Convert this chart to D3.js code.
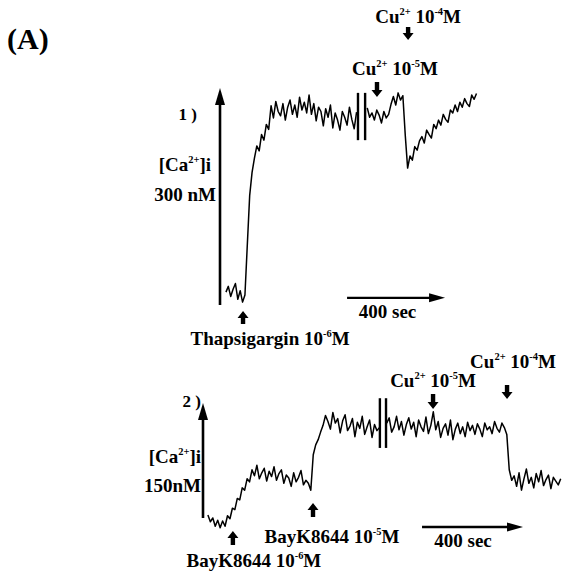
<!DOCTYPE html>
<html>
<head>
<meta charset="utf-8">
<script src="https://cdn.jsdelivr.net/npm/d3@7"></script>
<style>
  body { margin: 0; background: #fff; }
  text { font-family: "Liberation Serif", "Times New Roman", serif; font-weight: bold; fill: #000; }
</style>
</head>
<body>
<div id="chart"></div>
<script>
// Configurable Variables
const width = 566;
const height = 580;
const sampleStep = 10; // seconds between samples

// Panel 1: thapsigargin, then Cu2+ (values in nM, one every sampleStep s)
const p1StartA = 25;
const p1TraceA = [18, 26, 12, 22, 30, 8, 20, 4, 14, 84,
  153, 185, 205, 222, 215, 238, 230, 252, 245,
  278, 261, 284, 270, 264, 281, 258, 276, 286, 266,
  279, 262, 290, 272, 283, 268, 293, 266, 281, 257,
  276, 270, 250, 274, 262, 279, 247, 268, 258, 244,
  270, 262, 251, 276, 259, 246, 269];
const p1StartB = 620;
const p1TraceB = [275, 262, 268, 258, 272, 265, 254, 270, 261, 266,
  280, 291, 279, 296, 286, 292, 237, 191, 208, 202,
  221, 216, 229, 235, 226, 244, 238, 233, 252, 246,
  258, 251, 266, 259, 255, 272, 268, 279, 270, 283,
  276, 288, 281, 277, 293, 287, 295];
const p1Breaks = [581, 611];
const p1BreakRange = [230, 296];
const p1EventTimes = [97, 661, 792];
const p1EventAgents = ["Thapsigargin", "Cu", "Cu"];
const p1EventIons = ["", "2+", "2+"];
const p1EventExps = ["-6", "-5", "-4"];
const p1ScaleNM = [0, 300];
const p1ScaleSec = [535, 935];

// Panel 2: BayK8644, then Cu2+
const p2StartA = 20;
const p2TraceA = [24, 15, 20, 9, 17, 7, 16, 9, 23, 19,
  33, 31, 46, 44, 60, 57, 72, 68,
  84, 76, 90, 72, 80, 86, 69, 82, 75, 88,
  70, 79, 84, 66, 77, 73, 62, 80, 68, 74,
  83, 64, 70, 66,
  57, 104, 117, 124, 134,
  143, 156, 148, 138, 160, 146, 152, 133, 149, 157,
  136, 142, 152, 128, 147, 139, 155, 131, 141, 150,
  127, 144, 136, 140];
const p2StartB = 750;
const p2TraceB = [146, 153, 134, 141, 155, 137, 148, 130, 144, 153,
  138, 147, 128, 150, 141, 135, 154, 132, 143, 161,
  137, 148, 127, 139, 145, 130, 150, 124, 138, 146,
  132, 141, 128, 147, 136, 143, 131, 145, 138, 128,
  146, 137, 141, 132, 148, 139, 134, 146, 140, 131,
  84, 70, 76, 62, 80, 57, 72, 85, 66, 74,
  60, 79, 68, 83, 63, 71, 77, 59, 74, 69,
  64, 72];
const p2Breaks = [722, 747];
const p2BreakRange = [113, 179];
const p2EventTimes = [122, 449, 939, 1241];
const p2EventAgents = ["BayK8644", "BayK8644", "Cu", "Cu"];
const p2EventIons = ["", "", "2+", "2+"];
const p2EventExps = ["-6", "-5", "-5", "-4"];
const p2ScaleNM = [20, 170];
const p2ScaleSec = [894, 1294];

const svg = d3.select("#chart").append("svg")
    .attr("width", width)
    .attr("height", height);

// Scales (one pair per panel)
const x1 = d3.scaleLinear().domain([0, 1200]).range([220, 505]);
const y1 = d3.scaleLinear().domain([0, 300]).range([305, 90]);
const x2 = d3.scaleLinear().domain([0, 1500]).range([203, 570.5]);
const y2 = d3.scaleLinear().domain([20, 170]).range([518, 405]);

// Layout of the arrows/labels per event (pixels): arrow direction, tip, length, label offset
const p1Layout = [
  {dir: -1, tip: 311, len: 13, dx: 27, ly: 345},
  {dir: 1, tip: 97, len: 15, dx: 18, ly: 75},
  {dir: 1, tip: 40, len: 13, dx: 10, ly: 23}
];
const p2Layout = [
  {dir: -1, tip: 531, len: 14, dx: 21, ly: 567},
  {dir: -1, tip: 503, len: 14, dx: 19, ly: 543},
  {dir: 1, tip: 409, len: 15, dx: 0, ly: 387},
  {dir: 1, tip: 399, len: 14, dx: 6, ly: 368}
];

// Text with superscripts, parts = [[string, isSup], ...]
function richText(g, x, y, parts, size, anchor) {
  const t = g.append("text")
      .attr("x", x)
      .attr("y", y)
      .attr("text-anchor", anchor || "middle")
      .style("font-size", size + "px");
  let up = false;
  parts.forEach(([s, sup]) => {
    const ts = t.append("tspan").text(s);
    if (sup && !up) { ts.attr("dy", -size * 0.4).style("font-size", (size * 0.55) + "px"); up = true; }
    else if (sup) { ts.style("font-size", (size * 0.55) + "px"); }
    else if (up) { ts.attr("dy", size * 0.4); up = false; }
  });
  return t;
}

// Block arrow pointing up (dir -1) or down (dir 1)
function blockArrow(g, cx, yTip, len, dir) {
  const hh = 7, hw = 5.5, sw = 2.2;
  const yh = yTip - dir * hh;
  const yb = yTip - dir * len;
  g.append("polygon")
      .attr("points", [[cx, yTip], [cx + hw, yh], [cx + sw, yh], [cx + sw, yb],
        [cx - sw, yb], [cx - sw, yh], [cx - hw, yh]].map(p => p.join(",")).join(" "))
      .attr("fill", "#000");
}

function drawPanel(o) {
  const g = svg.append("g");
  const line = d3.line().x(d => o.x(d[0])).y(d => o.y(d[1]));

  // trace segments
  o.segments.forEach(([start, values]) => {
    g.append("path")
        .datum(values.map((v, i) => [start + i * sampleStep, v]))
        .attr("d", line)
        .attr("fill", "none")
        .attr("stroke", "#000")
        .attr("stroke-width", 1.5)
        .attr("stroke-linejoin", "round");
  });

  // time break marks
  g.selectAll(".brk").data(o.breaks).enter().append("line")
      .attr("x1", d => o.x(d)).attr("x2", d => o.x(d))
      .attr("y1", o.y(o.breakRange[0])).attr("y2", o.y(o.breakRange[1]))
      .attr("stroke", "#000").attr("stroke-width", 2.4);

  // vertical [Ca2+]i scale arrow
  const ax = o.x(0), yb = o.y(o.scaleNM[0]), yt = o.y(o.scaleNM[1]);
  g.append("line").attr("x1", ax).attr("x2", ax).attr("y1", yb).attr("y2", yt + 10)
      .attr("stroke", "#000").attr("stroke-width", 2.6);
  g.append("polygon").attr("points", `${ax},${yt - 2} ${ax - 5},${yt + 15} ${ax + 5},${yt + 15}`)
      .attr("fill", "#000");

  // horizontal 400 sec scale arrow
  const hx0 = o.x(o.scaleSec[0]), hx1 = o.x(o.scaleSec[1]), hy = o.y(o.secLevel);
  g.append("line").attr("x1", hx0).attr("x2", hx1 - 8).attr("y1", hy).attr("y2", hy)
      .attr("stroke", "#000").attr("stroke-width", 2.4);
  g.append("polygon").attr("points", `${hx1 + 3},${hy} ${hx1 - 13},${hy - 4.5} ${hx1 - 13},${hy + 4.5}`)
      .attr("fill", "#000");
  richText(g, (hx0 + hx1) / 2 + o.secDx, hy + o.secDy, [["400 sec", false]], 19);

  // event arrows and labels
  o.times.forEach((t, i) => {
    const L = o.layout[i];
    blockArrow(g, o.x(t), L.tip, L.len, L.dir);
    const parts = [[o.agents[i], false]];
    if (o.ions[i]) parts.push([o.ions[i], true]);
    parts.push([" 10", false], [o.exps[i], true], ["M", false]);
    richText(g, o.x(t) + L.dx, L.ly, parts, 19);
  });

  // axis labels
  richText(g, o.panelLabel[1], o.panelLabel[2], [[o.panelLabel[0], false]], 17, "end");
  richText(g, o.caLabel[0], o.caLabel[1], [["[Ca", false], ["2+", true], ["]i", false]], 19, "end");
  richText(g, o.nmLabel[1], o.nmLabel[2], [[o.nmLabel[0], false]], 19, "end");
}

drawPanel({
  x: x1, y: y1,
  segments: [[p1StartA, p1TraceA], [p1StartB, p1TraceB]],
  breaks: p1Breaks, breakRange: p1BreakRange,
  scaleNM: p1ScaleNM, scaleSec: p1ScaleSec, secLevel: 10, secDx: -7, secDy: 20,
  times: p1EventTimes, agents: p1EventAgents, ions: p1EventIons, exps: p1EventExps,
  layout: p1Layout,
  panelLabel: ["1 )", 197, 120],
  caLabel: [211, 171],
  nmLabel: ["300 nM", 216, 201]
});

drawPanel({
  x: x2, y: y2,
  segments: [[p2StartA, p2TraceA], [p2StartB, p2TraceB]],
  breaks: p2Breaks, breakRange: p2BreakRange,
  scaleNM: p2ScaleNM, scaleSec: p2ScaleSec, secLevel: 8, secDx: -8, secDy: 20,
  times: p2EventTimes, agents: p2EventAgents, ions: p2EventIons, exps: p2EventExps,
  layout: p2Layout,
  panelLabel: ["2 )", 201, 407],
  caLabel: [201, 463],
  nmLabel: ["150nM", 201, 492]
});

// Figure letter
svg.append("text")
    .attr("x", 7)
    .attr("y", 49)
    .style("font-size", "30px")
    .text("(A)");
</script>
</body>
</html>
